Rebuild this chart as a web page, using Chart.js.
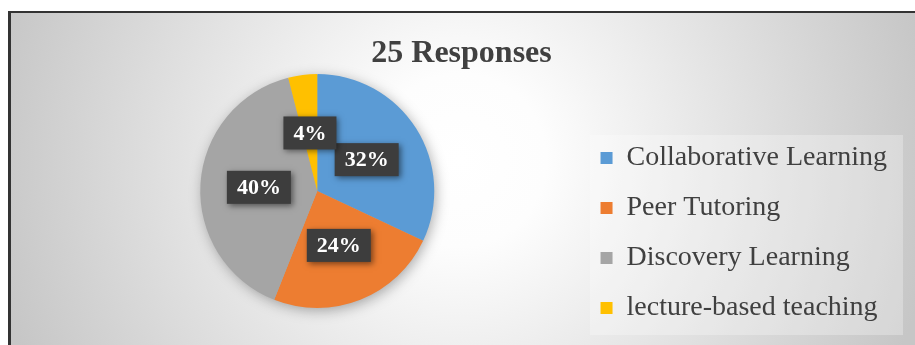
<!DOCTYPE html>
<html>
<head>
<meta charset="utf-8">
<script src="https://cdn.jsdelivr.net/npm/chart.js@4.4.1/dist/chart.umd.min.js"></script>
<style>
  html, body { margin: 0; padding: 0; background: #fff; }
  #wrap { width: 915px; height: 345px; }
</style>
</head>
<body>
<div id="wrap"><canvas id="chart" width="915" height="345"></canvas></div>
<script>
const chartTitle = '25 Responses';
const methods = ['Collaborative Learning', 'Peer Tutoring', 'Discovery Learning', 'lecture-based teaching'];
const responses = [8, 6, 10, 1];
const sliceColors = ['#5B9BD5', '#ED7D31', '#A5A5A5', '#FFC000'];

const total = responses.reduce((a, b) => a + b, 0);

// Фон: радиальная заливка, рамка и подложка под легенду
const backdrop = {
    id: 'backdrop',
    beforeDraw(chart) {
        const ctx = chart.ctx;
        const w = chart.width, h = chart.height;
        ctx.save();
        ctx.fillStyle = '#fff';
        ctx.fillRect(0, 0, w, h);
        const g = ctx.createRadialGradient(460, 160, 0, 460, 160, 480);
        g.addColorStop(0, '#ffffff');
        g.addColorStop(0.18, '#fdfdfd');
        g.addColorStop(1, '#c6c6c6');
        ctx.fillStyle = g;
        ctx.fillRect(9, 12, w - 9, h - 12);
        ctx.fillStyle = 'rgba(255,255,255,0.28)';
        ctx.fillRect(590, 135, 313, 200);
        ctx.fillStyle = '#333';
        ctx.fillRect(8, 11, w - 8, 2);
        ctx.fillRect(8, 11, 3, h - 11);
        ctx.restore();
    },
    // Заголовок по центру всей рамки, а не области круга
    afterDraw(chart) {
        const ctx = chart.ctx;
        ctx.save();
        ctx.font = 'bold 32px "Liberation Serif"';
        ctx.fillStyle = '#404040';
        ctx.textAlign = 'center';
        ctx.textBaseline = 'middle';
        ctx.fillText(chartTitle, (8 + chart.width) / 2, 54);
        ctx.restore();
    }
};

// Мягкая тень под кругом
const pieShadow = {
    id: 'pieShadow',
    beforeDatasetsDraw(chart) {
        const arc = chart.getDatasetMeta(0).data[0];
        if (!arc) return;
        const { x, y, outerRadius } = arc.getProps(['x', 'y', 'outerRadius'], true);
        const ctx = chart.ctx;
        ctx.save();
        ctx.shadowColor = 'rgba(0,0,0,0.35)';
        ctx.shadowBlur = 14;
        ctx.shadowOffsetX = 2;
        ctx.shadowOffsetY = 3;
        ctx.beginPath();
        ctx.arc(x, y, outerRadius - 1, 0, Math.PI * 2);
        ctx.fillStyle = '#aaa';
        ctx.fill();
        ctx.restore();
    }
};

// Подписи процентов в тёмных плашках
const valueBoxes = {
    id: 'valueBoxes',
    afterDatasetsDraw(chart) {
        const ctx = chart.ctx;
        const data = chart.data.datasets[0].data;
        ctx.save();
        ctx.font = 'bold 22px "Liberation Serif"';
        ctx.textAlign = 'center';
        ctx.textBaseline = 'middle';
        chart.getDatasetMeta(0).data.forEach((arc, i) => {
            const { x, y } = arc.tooltipPosition(true);
            const text = Math.round(data[i] / total * 100) + '%';
            const w = ctx.measureText(text).width + 20;
            const h = 33;
            ctx.shadowColor = 'rgba(0,0,0,0.5)';
            ctx.shadowBlur = 6;
            ctx.shadowOffsetX = 2;
            ctx.shadowOffsetY = 2;
            ctx.fillStyle = '#3d3d3d';
            ctx.fillRect(x - w / 2, y - h / 2, w, h);
            ctx.shadowColor = 'transparent';
            ctx.fillStyle = '#fff';
            ctx.fillText(text, x, y + 1);
        });
        ctx.restore();
    }
};

new Chart(document.getElementById('chart'), {
    type: 'pie',
    data: {
        labels: methods,
        datasets: [{
            data: responses,
            backgroundColor: sliceColors,
            borderWidth: 0,
            radius: 117
        }]
    },
    options: {
        responsive: false,
        animation: false,
        layout: { padding: { top: 38, left: 56, right: 18, bottom: 1 } },
        plugins: {
            legend: {
                position: 'right',
                fullSize: false,
                align: 'end',
                labels: {
                    boxWidth: 12,
                    boxHeight: 12,
                    padding: 22,
                    color: '#404040',
                    font: { family: 'Liberation Serif', size: 28 }
                }
            },
            tooltip: { enabled: false }
        }
    },
    plugins: [backdrop, pieShadow, valueBoxes]
});
</script>
</body>
</html>
